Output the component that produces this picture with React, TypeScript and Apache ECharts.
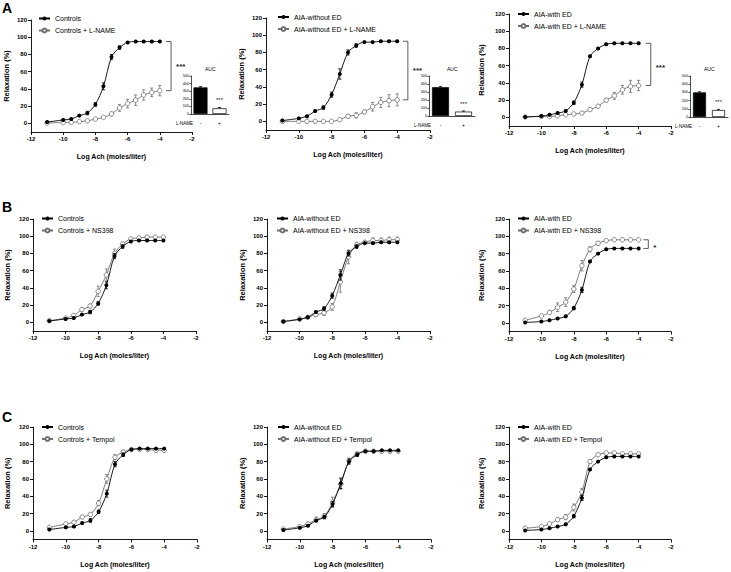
import React, { useEffect, useRef } from 'react';
import * as echarts from 'echarts';

const FONT = '"Liberation Sans", Arial, Helvetica, sans-serif';

// Log concentrations of acetylcholine (x values)
const logAch = [-11, -10, -9.5, -9, -8.5, -8, -7.5, -7, -6.5, -6, -5.5, -5, -4.5, -4];
const yTicks = [0, 20, 40, 60, 80, 100, 120];

// Base groups
const controls = [1.5, 4, 5, 9, 12, 22, 43, 77, 88, 94, 95, 95, 95, 95];
const controlsErr = [0.5, 1, 1, 1, 2, 2, 4, 3, 2, 1, 1, 1, 1, 1];
const aiaWithout = [1, 3.5, 6, 12, 16, 31, 55, 80, 88, 92, 92, 93, 93, 93];
const aiaWithoutErr = [1, 1, 1, 1, 2, 3, 6, 3, 2, 1, 1, 1, 1, 1];
const aiaWith = [0.5, 1.5, 3, 5, 7.5, 17, 38, 71, 80, 85, 86, 86, 86, 86];
const aiaWithErr = [0.5, 0.5, 1, 1, 1, 2, 3, 1, 1, 1, 1, 1, 1, 1];

// L-NAME
const controlsLname = [0.5, 1, 1, 2, 3, 5, 7, 11, 18, 23, 27, 33, 36, 38];
const controlsLnameErr = [0.5, 0.5, 0.5, 0.5, 1, 1, 1, 2, 4, 5, 6, 6, 5, 6];
const aiaWithoutLname = [0, 0, 0, 0, 0, 0, 2, 6, 7, 11, 17, 22, 24, 25];
const aiaWithoutLnameErr = [0.5, 0.5, 0.5, 0.5, 0.5, 0.5, 1, 2, 3, 2, 5, 6, 7, 7];
const aiaWithLname = [0.5, 1, 1, 2, 3, 4, 5, 9, 13, 20, 25, 32, 36, 37];
const aiaWithLnameErr = [0.5, 0.5, 0.5, 0.5, 0.5, 0.5, 1, 1, 1, 2, 4, 5, 7, 6];

// NS398
const controlsNs = [2, 5, 8, 15, 19, 36, 55, 80, 91, 97, 98, 99, 99, 99];
const controlsNsErr = [1, 1, 1, 2, 2, 6, 7, 5, 2, 1, 1, 1, 1, 1];
const aiaWithoutNs = [1, 4, 6, 9, 11, 18, 47, 76, 90, 93, 95, 95, 96, 96];
const aiaWithoutNsErr = [1, 1, 1, 2, 3, 4, 12, 8, 3, 2, 3, 3, 3, 3];
const aiaWithNs = [3, 8, 12, 18, 24, 39, 66, 85, 92, 95, 96, 96, 96, 96];
const aiaWithNsErr = [1, 1, 2, 5, 5, 4, 6, 3, 2, 1, 1, 1, 1, 1];

// Tempol
const controlsTempol = [4, 8, 10, 16, 19, 32, 60, 85, 91, 94, 94, 94, 93, 93];
const controlsTempolErr = [1, 1, 1, 1, 2, 3, 5, 3, 2, 1, 1, 1, 1, 1];
const aiaWithoutTempol = [2, 5, 8, 13, 17, 33, 54, 81, 89, 92, 92, 92, 92, 92];
const aiaWithoutTempolErr = [1, 1, 2, 3, 3, 6, 6, 3, 2, 1, 1, 1, 1, 1];
const aiaWithTempol = [3, 5, 8, 13, 16, 27, 45, 80, 88, 90, 90, 89, 89, 89];
const aiaWithTempolErr = [1, 1, 1, 2, 3, 4, 4, 2, 1, 1, 1, 1, 1, 1];

// AUC insets (row A)
const aucCategories = ['-', '+'];
const aucControls = [350, 75];
const aucControlsErr = [10, 10];
const aucAiaWithout = [360, 55];
const aucAiaWithoutErr = [10, 8];
const aucAiaWith = [300, 85];
const aucAiaWithErr = [8, 8];

type Curve = { name: string; values: number[]; err: number[] };
type Panel = { base: Curve; treat: Curve; sig?: string };

const panels: Panel[] = [
  { base: { name: 'Controls', values: controls, err: controlsErr }, treat: { name: 'Controls + L-NAME', values: controlsLname, err: controlsLnameErr }, sig: '***' },
  { base: { name: 'AIA-without ED', values: aiaWithout, err: aiaWithoutErr }, treat: { name: 'AIA-without ED + L-NAME', values: aiaWithoutLname, err: aiaWithoutLnameErr }, sig: '***' },
  { base: { name: 'AIA-with ED', values: aiaWith, err: aiaWithErr }, treat: { name: 'AIA-with ED + L-NAME', values: aiaWithLname, err: aiaWithLnameErr }, sig: '***' },
  { base: { name: 'Controls', values: controls, err: controlsErr }, treat: { name: 'Controls + NS398', values: controlsNs, err: controlsNsErr } },
  { base: { name: 'AIA-without ED', values: aiaWithout, err: aiaWithoutErr }, treat: { name: 'AIA-without ED + NS398', values: aiaWithoutNs, err: aiaWithoutNsErr } },
  { base: { name: 'AIA-with ED', values: aiaWith, err: aiaWithErr }, treat: { name: 'AIA-with ED + NS398', values: aiaWithNs, err: aiaWithNsErr }, sig: '*' },
  { base: { name: 'Controls', values: controls, err: controlsErr }, treat: { name: 'Controls + Tempol', values: controlsTempol, err: controlsTempolErr } },
  { base: { name: 'AIA-without ED', values: aiaWithout, err: aiaWithoutErr }, treat: { name: 'AIA-without ED + Tempol', values: aiaWithoutTempol, err: aiaWithoutTempolErr } },
  { base: { name: 'AIA-with ED', values: aiaWith, err: aiaWithErr }, treat: { name: 'AIA-with ED + Tempol', values: aiaWithTempol, err: aiaWithTempolErr } },
];

const insets = [
  { values: aucControls, err: aucControlsErr },
  { values: aucAiaWithout, err: aucAiaWithoutErr },
  { values: aucAiaWith, err: aucAiaWithErr },
];

// Layout (pixels); bracketX is the bracket's position in axis units, sigDy its text offset
const mainGrids = [
  { left: 31, top: 20, width: 161, height: 112, nameGapY: 21, legendLeft: 38, legendTop: 14, bracketX: -3.3, sigDy: 0.5 },
  { left: 266, top: 18, width: 164, height: 112, nameGapY: 21, legendLeft: 277, legendTop: 12.5, bracketX: -3.35, sigDy: -0.5 },
  { left: 509, top: 14, width: 162, height: 112, nameGapY: 24, legendLeft: 517, legendTop: 9.5, bracketX: -3.25, sigDy: 3.5 },
  { left: 33, top: 219, width: 163, height: 112, nameGapY: 22, legendLeft: 41, legendTop: 214 },
  { left: 267, top: 219, width: 163, height: 112, nameGapY: 21, legendLeft: 276, legendTop: 214 },
  { left: 509, top: 219, width: 162, height: 112.5, nameGapY: 24, legendLeft: 517, legendTop: 214, bracketX: -3.4, sigDy: 3 },
  { left: 33, top: 427, width: 164, height: 112.5, nameGapY: 22, legendLeft: 41, legendTop: 422.5 },
  { left: 267, top: 427, width: 164, height: 112.5, nameGapY: 21, legendLeft: 277, legendTop: 422.5 },
  { left: 509, top: 427, width: 162, height: 112.5, nameGapY: 24, legendLeft: 517, legendTop: 422.5 },
];
const insetGrids = [
  { left: 191, top: 76, width: 38, height: 38, barWidth: 14 },
  { left: 429, top: 76, width: 46, height: 40, barWidth: 17 },
  { left: 690, top: 76, width: 38, height: 41, barWidth: 13 },
];
const letters = [
  { text: 'A', y: 7.5 },
  { text: 'B', y: 207 },
  { text: 'C', y: 417 },
];

const BLACK = '#000';
const GRAY = '#707070';

function errorSeries(xi: number, data: number[][], color: string, upOnly = false, z = 2): any {
  return {
    type: 'custom',
    xAxisIndex: xi,
    yAxisIndex: xi,
    z,
    silent: true,
    data,
    renderItem: (_p: any, api: any) => {
      const x = api.value(0);
      const y = api.value(1);
      const e = api.value(2);
      const top = api.coord([x, y + e]);
      const bot = api.coord(upOnly ? [x, y] : [x, y - e]);
      const cap = 1.6;
      const st = { stroke: color, lineWidth: 0.8 };
      const children: any[] = [
        { type: 'line', shape: { x1: top[0], y1: top[1], x2: bot[0], y2: bot[1] }, style: st },
        { type: 'line', shape: { x1: top[0] - cap, y1: top[1], x2: top[0] + cap, y2: top[1] }, style: st },
      ];
      if (!upOnly) {
        children.push({ type: 'line', shape: { x1: bot[0] - cap, y1: bot[1], x2: bot[0] + cap, y2: bot[1] }, style: st });
      }
      return { type: 'group', children };
    },
  };
}

function buildOption(): any {
  const grid: any[] = [];
  const xAxis: any[] = [];
  const yAxis: any[] = [];
  const series: any[] = [];
  const legend: any[] = [];
  const graphic: any[] = [];

  panels.forEach((p, i) => {
    const g: any = mainGrids[i];
    grid.push({ left: g.left, top: g.top, width: g.width, height: g.height });
    xAxis.push({
      gridIndex: i,
      type: 'value',
      min: -12,
      max: -2,
      interval: 2,
      name: 'Log Ach (moles/liter)',
      nameLocation: 'middle',
      nameGap: 21,
      nameTextStyle: { fontSize: 7, fontWeight: 'bold', color: BLACK, fontFamily: FONT },
      axisLine: { onZero: false, lineStyle: { color: BLACK, width: 0.9 } },
      axisTick: { length: 3, lineStyle: { color: BLACK, width: 0.9 } },
      axisLabel: { fontSize: 6, fontWeight: 'bold', color: BLACK, margin: 4, fontFamily: FONT },
      splitLine: { show: false },
    });
    yAxis.push({
      gridIndex: i,
      type: 'value',
      min: -10,
      max: 120,
      name: 'Relaxation (%)',
      nameLocation: 'middle',
      nameGap: g.nameGapY,
      nameTextStyle: { fontSize: 7.5, fontWeight: 'bold', color: BLACK, fontFamily: FONT },
      axisLine: { show: true, onZero: false, lineStyle: { color: BLACK, width: 0.9 } },
      axisTick: { show: true, length: 3, customValues: yTicks, lineStyle: { color: BLACK, width: 0.9 } },
      axisLabel: { customValues: yTicks, fontSize: 6, fontWeight: 'bold', color: BLACK, margin: 4, fontFamily: FONT },
      splitLine: { show: false },
    });

    const treatData = logAch.map((x, k) => [x, p.treat.values[k]]);
    const baseData = logAch.map((x, k) => [x, p.base.values[k]]);
    series.push(errorSeries(i, logAch.map((x, k) => [x, p.treat.values[k], p.treat.err[k]]), GRAY, false, 2));
    series.push({
      name: p.treat.name,
      type: 'line',
      xAxisIndex: i,
      yAxisIndex: i,
      data: treatData,
      smooth: 0.3,
      symbol: 'circle',
      symbolSize: 4.5,
      itemStyle: { color: '#fff', borderColor: GRAY, borderWidth: 0.8 },
      lineStyle: { color: GRAY, width: 0.9 },
      z: 3,
    });
    series.push(errorSeries(i, logAch.map((x, k) => [x, p.base.values[k], p.base.err[k]]), BLACK, false, 4));
    series.push({
      name: p.base.name,
      type: 'line',
      xAxisIndex: i,
      yAxisIndex: i,
      data: baseData,
      smooth: 0.3,
      symbol: 'circle',
      symbolSize: 4,
      itemStyle: { color: BLACK },
      lineStyle: { color: BLACK, width: 0.9 },
      z: 5,
    });

    if (p.sig) {
      const last = logAch.length - 1;
      const yA = p.base.values[last];
      const yB = p.treat.values[last];
      const sig = p.sig;
      const dy = g.sigDy;
      series.push({
        type: 'custom',
        xAxisIndex: i,
        yAxisIndex: i,
        silent: true,
        clip: false,
        z: 6,
        data: [[g.bracketX, Math.max(yA, yB), Math.min(yA, yB)]],
        renderItem: (_pp: any, api: any) => {
          const t = api.coord([api.value(0), api.value(1)]);
          const bt = api.coord([api.value(0), api.value(2)]);
          const w = 5;
          return {
            type: 'group',
            children: [
              {
                type: 'polyline',
                shape: { points: [[t[0] - w, t[1]], [t[0], t[1]], [bt[0], bt[1]], [bt[0] - w, bt[1]]] },
                style: { stroke: '#333', lineWidth: 0.8, fill: null },
              },
              {
                type: 'text',
                x: t[0] + 5,
                y: (t[1] + bt[1]) / 2 + dy,
                style: { text: sig, fontSize: 8, fontWeight: 'bold', fontFamily: FONT, fill: '#222', align: 'left', verticalAlign: 'middle' },
              },
            ],
          };
        },
      });
    }

    legend.push({
      orient: 'vertical',
      left: g.legendLeft,
      top: g.legendTop,
      padding: 0,
      itemGap: 3,
      itemWidth: 11,
      itemHeight: 5,
      selectedMode: false,
      data: [p.base.name, p.treat.name],
      textStyle: { fontSize: 7, color: '#000', fontFamily: FONT, lineHeight: 9 },
    });
  });

  insets.forEach((ins, j) => {
    const g = insetGrids[j];
    const idx = panels.length + j;
    grid.push({ left: g.left, top: g.top, width: g.width, height: g.height });
    xAxis.push({
      gridIndex: idx,
      type: 'category',
      data: aucCategories,
      axisLine: { lineStyle: { color: BLACK, width: 0.7 } },
      axisTick: { show: false },
      axisLabel: { fontSize: 5, color: BLACK, margin: 6, fontFamily: FONT },
    });
    yAxis.push({
      gridIndex: idx,
      type: 'value',
      min: 0,
      max: 500,
      interval: 100,
      axisLine: { show: true, lineStyle: { color: BLACK, width: 0.7 } },
      axisTick: { show: true, length: 1.5, lineStyle: { color: BLACK, width: 0.7 } },
      axisLabel: { fontSize: 3.8, color: BLACK, margin: 2, fontFamily: FONT },
      splitLine: { show: false },
    });
    series.push({
      type: 'bar',
      xAxisIndex: idx,
      yAxisIndex: idx,
      barWidth: g.barWidth,
      silent: true,
      data: ins.values.map((v, k) =>
        k === 0
          ? { value: v, itemStyle: { color: BLACK, borderColor: BLACK, borderWidth: 0.7 } }
          : {
              value: v,
              itemStyle: { color: '#fff', borderColor: BLACK, borderWidth: 0.7 },
              label: { show: true, position: 'top', distance: 5, formatter: '***', fontSize: 6, color: '#222', fontFamily: FONT },
            }
      ),
    });
    series.push(errorSeries(idx, ins.values.map((v, k) => [k, v, ins.err[k]]), BLACK, true, 3));

    graphic.push({
      type: 'text',
      left: g.left + g.width / 2 - 5,
      top: g.top - 10,
      style: { text: 'AUC', fontSize: 5, fill: BLACK, fontFamily: FONT },
    });
    graphic.push({
      type: 'text',
      x: g.left + 2,
      y: g.top + g.height + 9,
      style: { text: 'L-NAME', fontSize: 4.5, fill: BLACK, fontFamily: FONT, align: 'right', verticalAlign: 'middle' },
    });
  });

  letters.forEach((l) => {
    graphic.push({
      type: 'text',
      x: 2,
      y: l.y,
      style: { text: l.text, fontSize: 14, fontWeight: 'bold', fill: BLACK, fontFamily: FONT, align: 'left', verticalAlign: 'middle' },
    });
  });

  return {
    animation: false,
    backgroundColor: '#fff',
    textStyle: { fontFamily: FONT },
    grid,
    xAxis,
    yAxis,
    legend,
    series,
    graphic,
  };
}

export default function App() {
  const ref = useRef<HTMLDivElement>(null);
  useEffect(() => {
    if (!ref.current) return;
    const chart = echarts.init(ref.current, undefined, { renderer: 'svg' });
    chart.setOption(buildOption());
    return () => chart.dispose();
  }, []);
  return (
    <div
      ref={ref}
      style={{ position: 'fixed', left: 0, top: 0, width: 731, height: 572, background: '#fff' }}
    />
  );
}
